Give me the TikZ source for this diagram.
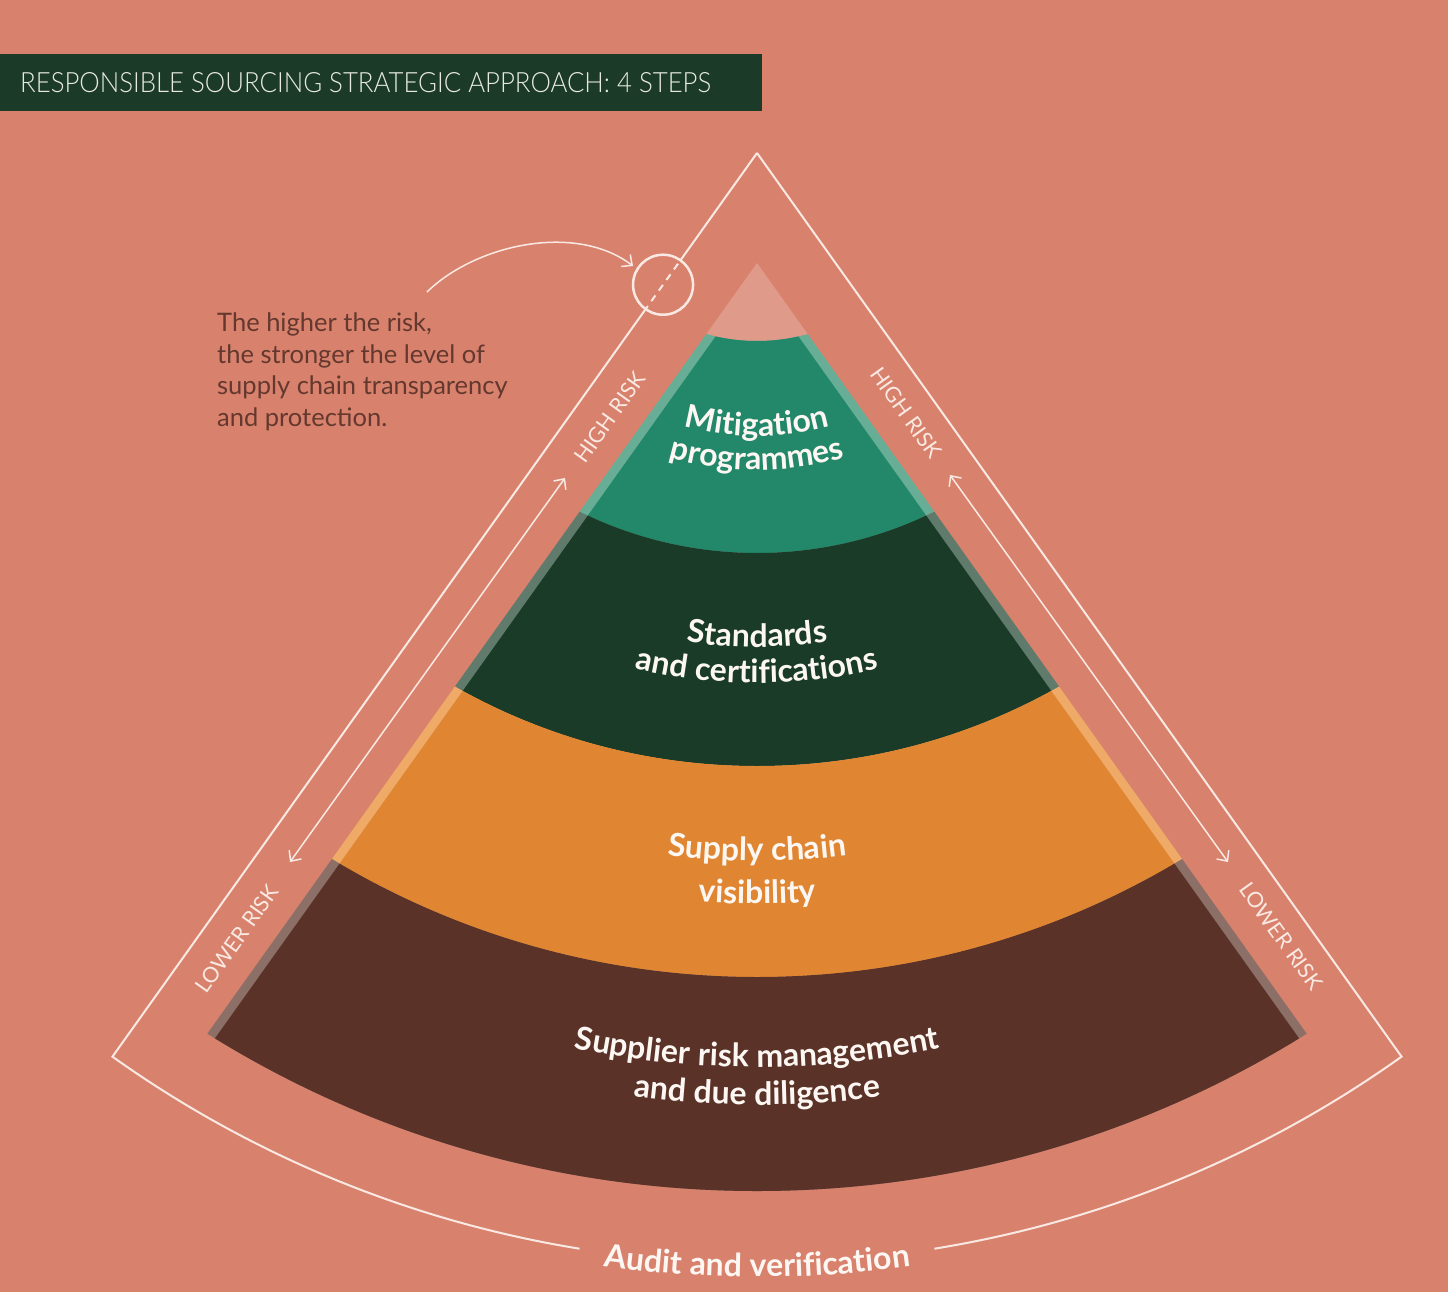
\documentclass[tikz,border=0pt]{standalone}
\usepackage{fontspec}
\usetikzlibrary{calc,arrows.meta,decorations.text}
\newfontfamily\latoreg{Lato}
\newfontfamily\latolight{Lato Light}
\definecolor{bgc}{RGB}{216,130,109}
\definecolor{titlec}{RGB}{27,58,39}
\definecolor{titletxt}{RGB}{232,234,226}
\definecolor{palec}{RGB}{224,154,138}
\definecolor{tealc}{RGB}{35,135,106}
\definecolor{tealstrip}{RGB}{104,174,150}
\definecolor{dgreenc}{RGB}{26,59,40}
\definecolor{dgstrip}{RGB}{96,122,108}
\definecolor{orangec}{RGB}{224,134,50}
\definecolor{orstrip}{RGB}{238,170,102}
\definecolor{brownc}{RGB}{90,50,40}
\definecolor{brstrip}{RGB}{140,112,104}
\definecolor{linec}{RGB}{250,233,226}
\definecolor{bodyc}{RGB}{100,56,46}
\definecolor{bandtxt}{RGB}{252,247,243}
\newcommand\bandfnt{\latoreg\bfseries\fontsize{32}{36}\selectfont}
\newcommand\bandtext[2]{\path[decorate,decoration={text along path,text align=center,text color=bandtxt,text={|\bandfnt|#2}}] ($(C)+(120:#1)$) arc[start angle=120,end angle=60,radius=#1];}
\begin{document}
\begin{tikzpicture}[x=1pt,y=-1pt,
  outline/.style={draw=linec,line width=2pt},
  riskarrow/.style={draw=linec,line width=1.5pt,{Straight Barb[length=8pt,width=15pt]}-{Straight Barb[length=8pt,width=15pt]}},
  risklabel/.style={text=linec,font=\latoreg\fontsize{21.5}{22}\selectfont,inner sep=0pt},
  bodyline/.style={anchor=base west,text=bodyc,font=\latoreg\fontsize{25.5}{30}\selectfont,inner sep=0pt}]
% background
\fill[bgc] (0,0) rectangle (1448,1292);
\useasboundingbox (0,0) rectangle (1448,1292);
% key points
\coordinate (C) at (757,153);
\coordinate (A) at (757,263);
\coordinate (Ai) at (757,278.4);
% title
\fill[titlec] (0,54) rectangle (762,111);
\node[anchor=base west,inner sep=0pt,text=titletxt] (title) at (20,93) {\resizebox{691pt}{20pt}{\latolight RESPONSIBLE SOURCING STRATEGIC APPROACH: 4 STEPS}};
% pyramid
\begin{scope}
  \clip (A) -- ($(A)+(125.5:1400)$) -- ($(A)+(54.5:1400)$) -- cycle;
  \fill[palec] (C) circle (188);
  \fill[tealstrip,even odd rule] (C) circle (400) (C) circle (188);
  \fill[dgstrip,even odd rule] (C) circle (613) (C) circle (400);
  \fill[orstrip,even odd rule] (C) circle (824) (C) circle (613);
  \fill[brstrip,even odd rule] (C) circle (1038) (C) circle (824);
\end{scope}
\begin{scope}
  \clip (Ai) -- ($(Ai)+(125.5:1400)$) -- ($(Ai)+(54.5:1400)$) -- cycle;
  \fill[tealc,even odd rule] (C) circle (400) (C) circle (188);
  \fill[dgreenc,even odd rule] (C) circle (613) (C) circle (400);
  \fill[orangec,even odd rule] (C) circle (824) (C) circle (613);
  \fill[brownc,even odd rule] (C) circle (1038) (C) circle (824);
\end{scope}
% band labels
\bandtext{283}{Mitigation}
\bandtext{317}{programmes}
\bandtext{494}{Standards}
\bandtext{530}{and certifications}
\bandtext{708}{Supply chain}
\bandtext{751}{visibility}
\bandtext{914}{Supplier risk management}
\bandtext{952}{and due diligence}
\bandtext{1124}{Audit and verification}
% outer outline
\draw[outline] (C) -- ($(C)+(125.5:131.8)$);
\draw[outline,dash pattern=on 7pt off 6pt] ($(C)+(125.5:136)$) -- ($(C)+(125.5:191.8)$);
\draw[outline] ($(C)+(125.5:191.8)$) -- ($(C)+(125.5:1110)$) arc[start angle=125.5,end angle=99.2,radius=1110];
\draw[outline] ($(C)+(80.8:1110)$) arc[start angle=80.8,end angle=54.5,radius=1110] -- (C);
\draw[draw=linec,line width=2.5pt] ($(C)+(125.5:161.8)$) circle (30);
% pointer arrow
\coordinate (ps) at (427,292);
\coordinate (pe) at (633,266);
\draw[draw=linec,line width=1.5pt,-{Straight Barb[length=8pt,width=15pt]}] (ps) .. controls (475,245) and (575,222) .. (pe);
% risk arrows
\coordinate (lt) at (565,478);
\coordinate (lb) at (290,862);
\coordinate (rt) at (950,475);
\coordinate (rb) at (1228,862);
\draw[riskarrow] (lt) -- (lb);
\draw[riskarrow] (rt) -- (rb);
% risk labels
\node[risklabel,rotate=54.5] (lhigh) at (610,417) {HIGH RISK};
\node[risklabel,rotate=54.5] (llow) at (237,939) {LOWER RISK};
\node[risklabel,rotate=-54.5] (rhigh) at (906,413) {HIGH RISK};
\node[risklabel,rotate=-54.5] (rlow) at (1281,936) {LOWER RISK};
% body text
\node[bodyline] (b1) at (217,331.7) {The higher the risk,};
\node[bodyline] (b2) at (217,363) {the stronger the level of};
\node[bodyline] (b3) at (217,394.5) {supply chain transparency};
\node[bodyline] (b4) at (217,426.5) {and protection.};
\end{tikzpicture}
\end{document}
